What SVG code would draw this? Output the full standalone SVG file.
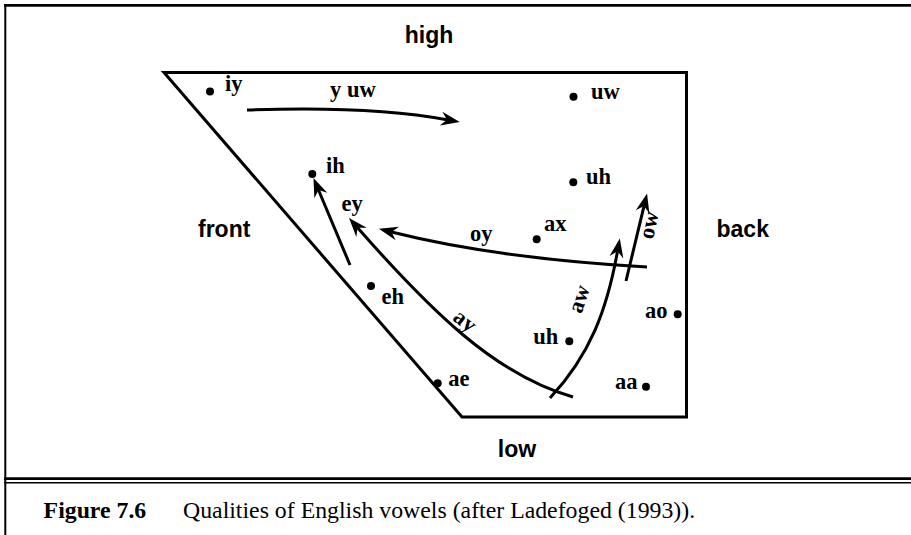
<svg xmlns="http://www.w3.org/2000/svg" width="911" height="535" viewBox="0 0 911 535">
<defs>
<style>
.frame{fill:none;stroke:#000;}
.quad{fill:none;stroke:#000;stroke-width:3;stroke-linejoin:miter;}
.axis{font-family:"Liberation Sans",Arial,sans-serif;font-weight:bold;font-size:23px;fill:#000;}
.v{font-family:"Liberation Serif","Times New Roman",serif;font-weight:bold;font-size:22.5px;fill:#000;}
.dot{fill:#000;}
.arr{fill:none;stroke:#000;stroke-width:3;marker-end:url(#ah);}
.cap{font-family:"Liberation Serif","Times New Roman",serif;font-size:23.8px;fill:#000;}
</style>
<marker id="ah" markerUnits="userSpaceOnUse" markerWidth="40" markerHeight="40" refX="-13" refY="0" orient="auto" overflow="visible">
<path d="M0,0 L-19,-7 L-13,0 L-19,7 Z" fill="#000"/>
</marker>
</defs>
<rect width="911" height="535" fill="#fff"/>
<g id="frame">
<line class="frame" x1="4" y1="5.3" x2="911" y2="5.3" stroke-width="2.7"/>
<line class="frame" x1="5.3" y1="4" x2="5.3" y2="535" stroke-width="2"/>
<line class="frame" x1="4" y1="478.7" x2="911" y2="478.7" stroke-width="2.7"/>
<line class="frame" x1="4" y1="482.8" x2="911" y2="482.8" stroke-width="1.4"/>
</g>
<g id="chart">
<polygon class="quad" points="164,72.5 686.5,72.5 686.5,417 462,417"/>
</g>
<g id="axis-labels">
<text class="axis" x="429" y="43" text-anchor="middle">high</text>
<text class="axis" x="198" y="237">front</text>
<text class="axis" x="716.5" y="237">back</text>
<text class="axis" x="517" y="456.5" text-anchor="middle">low</text>
</g>
<g id="connectors">
<path class="arr" d="M247,110 C330,107 395,110 447,119.7"/>
<path class="arr" d="M350,265 L318.5,190"/>
<path class="arr" d="M573,397 C495,375 430,310 357.6,227.8"/>
<path class="arr" d="M647,267 C560,262 475,253 391.5,232"/>
<path class="arr" d="M550,398 C590,355 607,310 617.5,251.3"/>
<path class="arr" d="M626,281 L644,206.1"/>
</g>
<g id="node-iy"><circle class="dot" cx="210" cy="91.5" r="4"/><text class="v" x="225" y="91">iy</text></g>
<g id="label-yuw"><text class="v" x="330" y="97">y uw</text></g>
<g id="node-uw"><circle class="dot" cx="573.5" cy="96.7" r="4"/><text class="v" x="591" y="99.3">uw</text></g>
<g id="node-ih"><circle class="dot" cx="312.3" cy="174" r="4"/><text class="v" x="326" y="172.7">ih</text></g>
<g id="node-uh-high"><circle class="dot" cx="573.3" cy="182.3" r="4"/><text class="v" x="586" y="184.3">uh</text></g>
<g id="label-ey"><text class="v" x="341.5" y="211">ey</text></g>
<g id="node-ax"><circle class="dot" cx="536.7" cy="239.3" r="4"/><text class="v" x="544" y="230.7">ax</text></g>
<g id="label-oy"><text class="v" x="470" y="240.5">oy</text></g>
<g id="node-eh"><circle class="dot" cx="371" cy="286" r="4"/><text class="v" x="381.5" y="304">eh</text></g>
<g id="node-ao"><circle class="dot" cx="677.7" cy="314.3" r="4"/><text class="v" x="645" y="318.3">ao</text></g>
<g id="node-uh-low"><circle class="dot" cx="569.3" cy="341.3" r="4"/><text class="v" x="533.3" y="344">uh</text></g>
<g id="node-ae"><circle class="dot" cx="437.7" cy="383.3" r="4"/><text class="v" x="448.3" y="386">ae</text></g>
<g id="node-aa"><circle class="dot" cx="646" cy="386.7" r="4"/><text class="v" x="615" y="389.3">aa</text></g>
<g id="label-ay"><text class="v" text-anchor="middle" transform="translate(465,321) rotate(38)" x="0" y="7">ay</text></g>
<g id="label-aw"><text class="v" text-anchor="middle" transform="translate(579,299) rotate(-72)" x="0" y="7">aw</text></g>
<g id="label-ow"><text class="v" text-anchor="middle" transform="translate(649,225) rotate(-78)" x="0" y="7">ow</text></g>
<g id="caption">
<text class="cap" x="43.6" y="518" font-weight="bold">Figure 7.6</text>
<text class="cap" x="183" y="518">Qualities of English vowels (after Ladefoged (1993)).</text>
</g>
</svg>
